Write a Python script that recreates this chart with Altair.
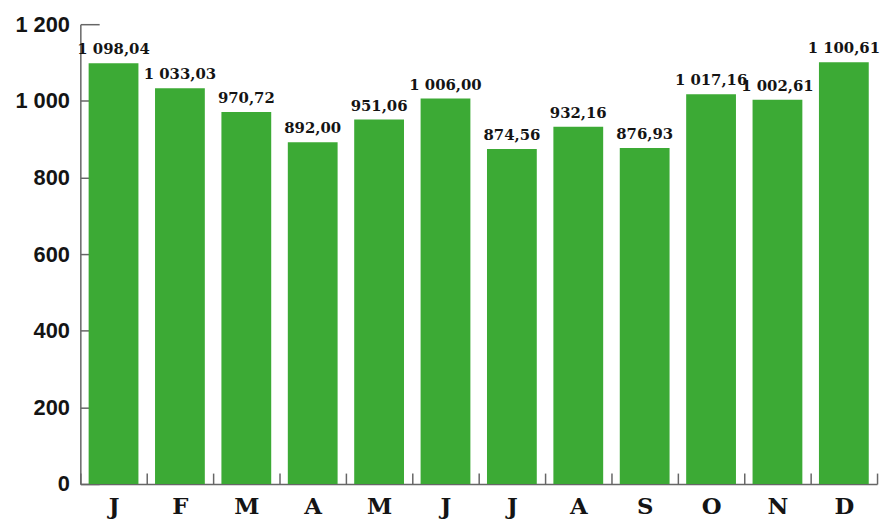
import altair as alt
import pandas as pd

months = ["Janvier", "Février", "Mars", "Avril", "Mai", "Juin", "Juillet",
          "Août", "Septembre", "Octobre", "Novembre", "Décembre"]
values = [1098.04, 1033.03, 970.72, 892.00, 951.06, 1006.00, 874.56,
          932.16, 876.93, 1017.16, 1002.61, 1100.61]
y_ticks = [0, 200, 400, 600, 800, 1000, 1200]


def fr(v):
    return f"{v:,.2f}".replace(",", " ").replace(".", ",")


df = pd.DataFrame({"mois": months, "valeur": values,
                   "etiquette": [fr(v) for v in values]})

SERIF = "DejaVu Serif"
SANS = "Liberation Sans"
GREEN = "#3caa35"
AXIS = "#666666"
INK = "#141414"
W, H = 804, 464

x_scale = alt.Scale(domain=months, paddingInner=0, paddingOuter=0)
y_scale = alt.Scale(domain=[0, 1200], nice=False)

x_axis = alt.Axis(title=None, ticks=True, tickBand="extent",
                  tickSize={"expr": "-11"}, tickColor=AXIS, tickWidth=1.5,
                  domain=True, domainColor=AXIS, domainWidth=1.5,
                  labelExpr="substring(datum.label, 0, 1)",
                  labelFont=SERIF, labelFontSize=23, labelFontWeight="bold",
                  labelColor=INK, labelAngle=0, labelBaseline="alphabetic",
                  labelPadding=41, grid=False)
y_axis = alt.Axis(title=None, ticks=True, tickSize={"expr": "-19"},
                  tickColor=AXIS, tickWidth=1.5,
                  domain=True, domainColor=AXIS, domainWidth=1.5,
                  values=y_ticks,
                  labelExpr="replace(format(datum.value, ','), ',', ' ')",
                  labelFont=SANS, labelFontSize=22, labelFontWeight="bold",
                  labelColor=INK, labelPadding=30, grid=False)

base = alt.Chart(df)

bars = base.mark_bar(color=GREEN, width={"band": 0.75}).encode(
    x=alt.X("mois:N", sort=months, scale=x_scale, axis=x_axis),
    y=alt.Y("valeur:Q", scale=y_scale, axis=y_axis),
)

labels = base.mark_text(baseline="bottom", dy=-6, font=SERIF, fontSize=15,
                        fontWeight="bold", color=INK).encode(
    x=alt.X("mois:N", sort=months, scale=x_scale),
    y=alt.Y("valeur:Q", scale=y_scale),
    text="etiquette:N",
)

chart = alt.layer(bars, labels).properties(
    width=W, height=H, autosize="none",
    padding={"left": 73, "top": 14, "right": 5, "bottom": 34},
).configure_view(stroke=None)

chart.save("out.html", embed_options={"renderer": "svg", "actions": False})
